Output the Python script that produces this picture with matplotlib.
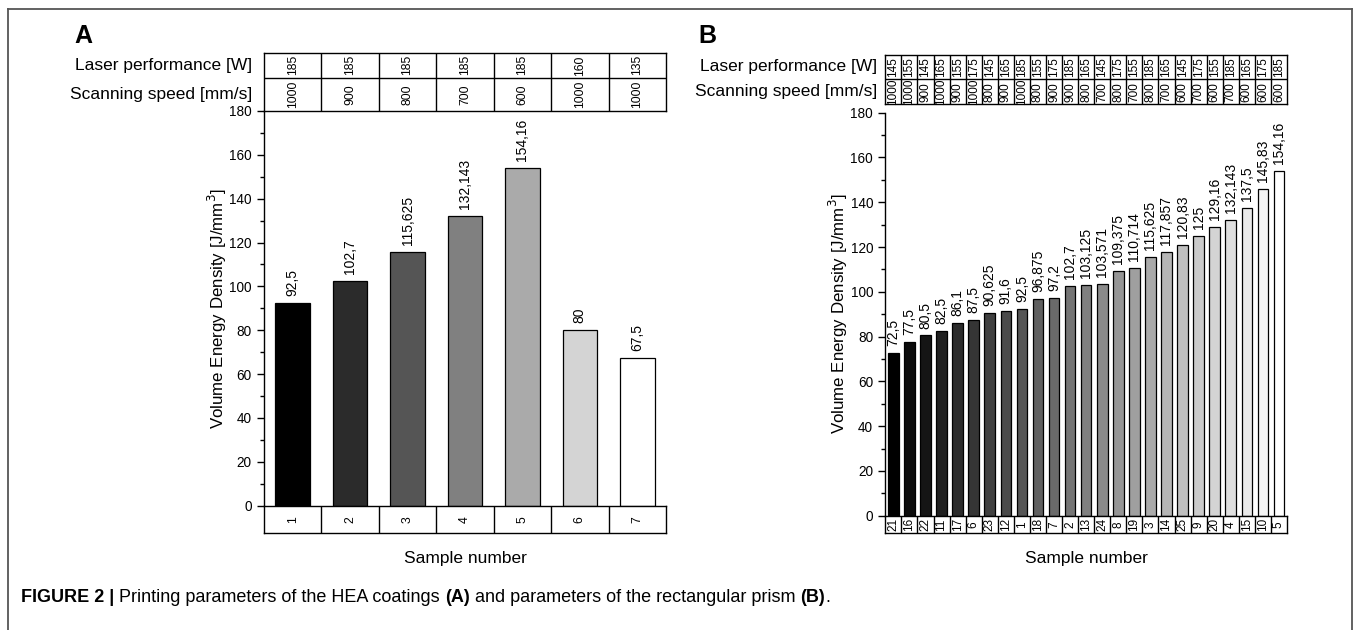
import matplotlib
matplotlib.use("Agg")
import matplotlib.pyplot as plt
import numpy as np
from matplotlib.lines import Line2D
from matplotlib.ticker import MultipleLocator

plt.rcParams['font.family'] = ['Liberation Sans', 'DejaVu Sans']

# ---------------- data ----------------
a_samples = ["1", "2", "3", "4", "5", "6", "7"]
a_values = [92.5, 102.7, 115.625, 132.143, 154.16, 80, 67.5]
a_labels = ["92,5", "102,7", "115,625", "132,143", "154,16", "80", "67,5"]
a_power = ["185", "185", "185", "185", "185", "160", "135"]
a_speed = ["1000", "900", "800", "700", "600", "1000", "1000"]

b_samples = ["21", "16", "22", "11", "17", "6", "23", "12", "1", "18", "7", "2", "13",
             "24", "8", "19", "3", "14", "25", "9", "20", "4", "15", "10", "5"]
b_values = [72.5, 77.5, 80.5, 82.5, 86.1, 87.5, 90.625, 91.6, 92.5, 96.875, 97.2, 102.7,
            103.125, 103.571, 109.375, 110.714, 115.625, 117.857, 120.83, 125, 129.16,
            132.143, 137.5, 145.83, 154.16]
b_labels = ["72,5", "77,5", "80,5", "82,5", "86,1", "87,5", "90,625", "91,6", "92,5",
            "96,875", "97,2", "102,7", "103,125", "103,571", "109,375", "110,714",
            "115,625", "117,857", "120,83", "125", "129,16", "132,143", "137,5",
            "145,83", "154,16"]
b_power = ["145", "155", "145", "165", "155", "175", "145", "165", "185", "155", "175",
           "185", "165", "145", "175", "155", "185", "165", "145", "175", "155", "185",
           "165", "175", "185"]
b_speed = ["1000", "1000", "900", "1000", "900", "1000", "800", "900", "1000", "800",
           "900", "900", "800", "700", "800", "700", "800", "700", "600", "700", "600",
           "700", "600", "600", "600"]

row_labels = ["Laser performance [W]", "Scanning speed [mm/s]"]
y_label = "Volume Energy Density [J/mm$^3$]"
x_label = "Sample number"

W, H = 1354, 630
fig = plt.figure(figsize=(W / 100, H / 100), dpi=100)


def box(x0, y0, x1, y1):
    return [x0 / W, 1 - y1 / H, (x1 - x0) / W, (y1 - y0) / H]


def panel(xl, xr, ytop_tab, ymid_tab, ybot_tab, yplot_top, yzero, ybot,
          samples, values, labels, power, speed, colors, barw, tabfs,
          ylab_x, rowlab_x, xlab_y):
    n = len(values)
    xs = np.arange(n)
    ax = fig.add_axes(box(xl, yplot_top, xr, yzero))
    ax.bar(xs, values, width=barw, color=colors, edgecolor='black', linewidth=0.9)
    ax.set_xlim(-0.5, n - 0.5)
    ax.set_ylim(0, 180)
    for s in ['top', 'right', 'bottom']:
        ax.spines[s].set_visible(False)
    ax.spines['left'].set_linewidth(1.0)
    ax.set_xticks([])
    ax.yaxis.set_major_locator(MultipleLocator(20))
    ax.yaxis.set_minor_locator(MultipleLocator(10))
    ax.tick_params(axis='y', which='major', length=4.8, width=1.0, labelsize=9.8, pad=4)
    ax.tick_params(axis='y', which='minor', length=2.8, width=1.0)
    for x, v, t in zip(xs, values, labels):
        ax.annotate(t, (x, v), xytext=(0, 5), textcoords='offset points',
                    rotation=90, ha='center', va='bottom', fontsize=10)
    fig.text(ylab_x / W, 1 - (yplot_top + yzero) / 2 / H, y_label, rotation=90,
             ha='center', va='center', fontsize=12.2)

    # top table
    tt = fig.add_axes(box(xl, ytop_tab, xr, ybot_tab))
    tt.set_xlim(-0.5, n - 0.5)
    tt.set_ylim(0, 2)
    tt.set_xticks([])
    tt.set_yticks([])
    for s in tt.spines.values():
        s.set_linewidth(1.0)
    frac = (ymid_tab - ytop_tab) / (ybot_tab - ytop_tab)
    ymid = 2 * (1 - frac)
    tt.axhline(ymid, color='black', lw=1.0)
    for i in range(1, n):
        tt.axvline(i - 0.5, color='black', lw=1.0)
    for x, p, s in zip(xs, power, speed):
        tt.text(x, (ymid + 2) / 2, p, rotation=90, ha='center', va='center', fontsize=tabfs)
        tt.text(x, ymid / 2, s, rotation=90, ha='center', va='center', fontsize=tabfs)
    fig.text(rowlab_x / W, 1 - (ytop_tab + ymid_tab) / 2 / H, row_labels[0],
             ha='right', va='center', fontsize=12.5)
    fig.text(rowlab_x / W, 1 - (ymid_tab + ybot_tab) / 2 / H, row_labels[1],
             ha='right', va='center', fontsize=12.5)

    # bottom table
    bt = fig.add_axes(box(xl, yzero, xr, ybot))
    bt.set_xlim(-0.5, n - 0.5)
    bt.set_ylim(0, 1)
    bt.set_xticks([])
    bt.set_yticks([])
    for s in bt.spines.values():
        s.set_linewidth(1.0)
    for i in range(1, n):
        bt.axvline(i - 0.5, color='black', lw=1.0)
    for x, s in zip(xs, samples):
        bt.text(x, 0.5, s, rotation=90, ha='center', va='center', fontsize=tabfs)
    fig.text((xl + xr) / 2 / W, 1 - xlab_y / H, x_label, ha='center', va='center',
             fontsize=12.5)
    return ax


a_colors = [str(g) for g in np.linspace(0, 1, len(a_values))]
b_colors = [str(g) for g in np.linspace(0, 1, len(b_values))]

panel(264, 666, 52.7, 78, 110.7, 111, 505.7, 533,
      a_samples, a_values, a_labels, a_power, a_speed, a_colors, 0.6, 8.8,
      217, 252, 559)
panel(885.3, 1287, 54.7, 79.3, 104, 112.7, 515.7, 533.3,
      b_samples, b_values, b_labels, b_power, b_speed, b_colors, 0.66, 8.5,
      838, 877, 559)

# panel letters
fig.text(74 / W, 1 - 36 / H, "A", fontsize=18, fontweight='bold', ha='left', va='center',
         family=['Liberation Sans Narrow', 'Liberation Sans'])
fig.text(698 / W, 1 - 36 / H, "B", fontsize=18, fontweight='bold', ha='left', va='center',
         family=['Liberation Sans Narrow', 'Liberation Sans'])

# outer frame
fc = '#555555'
for (x0, y0, x1, y1) in [(7.5, 8.5, 1352, 8.5), (7.5, 8.5, 7.5, 640), (1352, 8.5, 1352, 640)]:
    fig.add_artist(Line2D([x0 / W, x1 / W], [1 - y0 / H, 1 - y1 / H], color=fc, lw=1.3,
                          transform=fig.transFigure))

# caption
cap_y = 1 - 598 / H
t1 = fig.text(21 / W, cap_y, "FIGURE 2 |", fontsize=13, fontweight='bold', ha='left',
              va='center', family=['Liberation Sans Narrow', 'Liberation Sans'])
r = fig.canvas.get_renderer()
bb = t1.get_window_extent(renderer=r)
parts = [(" Printing parameters of the HEA coatings ", 'normal'), ("(A)", 'bold'),
         (" and parameters of the rectangular prism ", 'normal'), ("(B)", 'bold'),
         (".", 'normal')]
xcur = bb.x1
for txt, wt in parts:
    t = fig.text(xcur / fig.bbox.width, cap_y, txt, fontsize=13, fontweight=wt, ha='left',
                 va='center', family=['Liberation Sans Narrow', 'Liberation Sans'])
    xcur = t.get_window_extent(renderer=r).x1

fig.savefig("out.png", dpi=100)
